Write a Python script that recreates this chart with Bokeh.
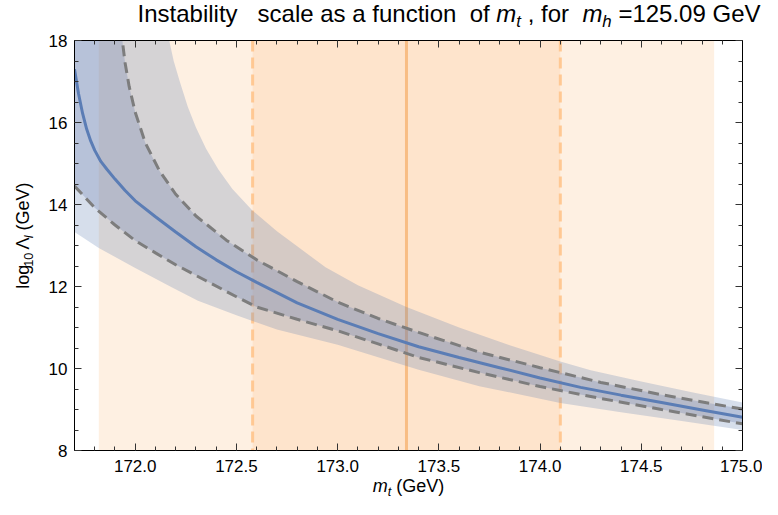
import math
from bokeh.plotting import figure
from bokeh.layouts import column, row
from bokeh.models import (Range1d, SingleIntervalTicker, LinearAxis, NumeralTickFormatter,
                          Span, BoxAnnotation, CustomJSTickFormatter)
from bokeh.core.properties import value
from bokeh.embed import file_html
from bokeh.resources import INLINE

# ---------------- data ----------------
MT_CENTRAL = 173.34          # GeV, measured top mass
MT_SIGMA = 0.76              # GeV, 1 sigma

# central instability scale (solid blue)
mt_central = [171.70, 171.72, 171.74, 171.76, 171.78, 171.80, 171.83, 171.86, 171.90, 171.95,
              172.00, 172.10, 172.20, 172.30, 172.40, 172.50, 172.60, 172.80, 173.00, 173.20,
              173.40, 173.60, 173.80, 174.00, 174.20, 174.40, 174.60, 174.80, 175.00]
lam_central = [17.30, 16.70, 16.22, 15.84, 15.55, 15.32, 15.05, 14.86, 14.62, 14.34,
               14.09, 13.70, 13.33, 12.97, 12.65, 12.36, 12.10, 11.60, 11.20, 10.85,
               10.53, 10.27, 10.02, 9.77, 9.54, 9.35, 9.17, 8.99, 8.81]

# inner band, upper edge (gray dashed)
mt_in_up = [171.70, 171.93, 171.94, 171.95, 171.97, 172.00, 172.05, 172.12, 172.20, 172.30,
            172.45, 172.60, 172.80, 173.00, 173.20, 173.40, 173.70, 174.00, 174.30, 174.60,
            175.00]
lam_in_up = [19.50, 18.30, 17.85, 17.45, 16.88, 16.25, 15.50, 14.82, 14.25, 13.72,
             13.13, 12.65, 12.12, 11.62, 11.22, 10.88, 10.40, 10.02, 9.66, 9.36,
             9.01]

# inner band, lower edge (gray dashed)
mt_in_lo = [171.70, 171.80, 171.90, 172.00, 172.10, 172.20, 172.35, 172.50, 172.60, 172.80,
            173.00, 173.20, 173.40, 173.70, 174.00, 174.30, 174.60, 175.00]
lam_in_lo = [14.45, 13.92, 13.50, 13.12, 12.82, 12.53, 12.14, 11.75, 11.50, 11.20,
             10.92, 10.60, 10.27, 9.90, 9.56, 9.27, 9.00, 8.65]

# outer band, upper edge
mt_out_up = [171.70, 172.16, 172.17, 172.19, 172.22, 172.26, 172.30, 172.35, 172.41, 172.48,
             172.58, 172.70, 172.80, 172.94, 173.10, 173.34, 173.60, 173.85, 174.10, 174.25,
             174.50, 174.75, 175.00]
lam_out_up = [19.50, 18.30, 17.95, 17.50, 17.00, 16.38, 15.88, 15.36, 14.86, 14.38,
              13.85, 13.35, 12.98, 12.47, 12.03, 11.50, 11.00, 10.57, 10.17, 9.96,
              9.68, 9.42, 9.17]

# outer band, lower edge
mt_out_lo = [171.70, 171.82, 172.00, 172.18, 172.31, 172.50, 172.70, 173.00, 173.40, 173.70,
             174.10, 174.40, 174.70, 175.00]
lam_out_lo = [13.33, 12.94, 12.45, 11.98, 11.65, 11.30, 10.95, 10.58, 9.97, 9.57,
              9.16, 8.93, 8.72, 8.50]

X_RANGE = (171.7, 175.0)
Y_RANGE = (8, 18)

# ---------------- styling ----------------
FONT = "Liberation Sans"
BLUE = "#5B7DB5"
GRAY = "#7D7D7D"
OR_LIGHT = "#FEF0E2"
OR_DARK = "#FEE4CC"
OR_LINE = "#FFC893"

TOTAL_W, TOTAL_H = 762, 499
TITLE_H, XLAB_H, YLAB_W = 30, 22, 44
B_LEFT, B_RIGHT, B_TOP, B_BOTTOM = 30, 20, 10, 27
FW = TOTAL_W - YLAB_W - B_LEFT - B_RIGHT
FH = TOTAL_H - TITLE_H - XLAB_H - B_TOP - B_BOTTOM

p = figure(frame_width=FW, frame_height=FH,
           x_range=Range1d(*X_RANGE), y_range=Range1d(*Y_RANGE),
           output_backend="svg", toolbar_location=None,
           min_border_left=B_LEFT, min_border_right=B_RIGHT,
           min_border_top=B_TOP, min_border_bottom=B_BOTTOM,
           background_fill_color="white", border_fill_color="white")
p.grid.visible = False
p.outline_line_color = "black"
p.outline_line_width = 1

# orange measurement bands
p.add_layout(BoxAnnotation(left=MT_CENTRAL - 2 * MT_SIGMA, right=MT_CENTRAL + 2 * MT_SIGMA,
                           fill_color=OR_LIGHT, fill_alpha=1.0, line_color=None, level="underlay"))
p.add_layout(BoxAnnotation(left=MT_CENTRAL - MT_SIGMA, right=MT_CENTRAL + MT_SIGMA,
                           fill_color=OR_DARK, fill_alpha=1.0, line_color=None, level="underlay"))
for loc in (MT_CENTRAL - MT_SIGMA, MT_CENTRAL + MT_SIGMA):
    p.add_layout(Span(location=loc, dimension="height", line_color=OR_LINE, line_width=3,
                      line_dash="11 6", level="underlay"))
p.add_layout(Span(location=MT_CENTRAL, dimension="height", line_color="#F8BD84", line_width=3,
                  level="underlay"))

# bands
p.patch(mt_out_up + mt_out_lo[::-1], lam_out_up + lam_out_lo[::-1],
        fill_color="#627FB0", fill_alpha=0.26, line_color=None)
p.patch(mt_in_up + mt_in_lo[::-1], lam_in_up + lam_in_lo[::-1],
        fill_color="#6F80AE", fill_alpha=0.30, line_color=None)

# lines
p.line(mt_in_up, lam_in_up, line_color=GRAY, line_width=3, line_dash="11 6")
p.line(mt_in_lo, lam_in_lo, line_color=GRAY, line_width=3, line_dash="11 6")
p.line(mt_central, lam_central, line_color=BLUE, line_width=3)

# axes
def style_axis(ax, labels=True):
    ax.axis_line_color = "black"
    ax.axis_line_width = 1
    ax.major_tick_in = 7
    ax.major_tick_out = 0
    ax.minor_tick_in = 4
    ax.minor_tick_out = 0
    ax.major_tick_line_color = "#333333"
    ax.minor_tick_line_color = "#333333"
    ax.major_label_text_font = FONT
    ax.major_label_text_font_size = "17px"
    ax.major_label_text_color = "black"
    if not labels:
        ax.formatter = CustomJSTickFormatter(code="return ''")

p.xaxis.ticker = SingleIntervalTicker(interval=0.5, num_minor_ticks=5)
p.xaxis.formatter = NumeralTickFormatter(format="0.0")
p.yaxis.ticker = SingleIntervalTicker(interval=2, num_minor_ticks=4)
p.yaxis.formatter = NumeralTickFormatter(format="0")
style_axis(p.xaxis[0])
style_axis(p.yaxis[0])
p.xaxis[0].major_label_standoff = 9
p.yaxis[0].major_label_standoff = 7

top = LinearAxis(ticker=SingleIntervalTicker(interval=0.5, num_minor_ticks=5))
right = LinearAxis(ticker=SingleIntervalTicker(interval=2, num_minor_ticks=4))
style_axis(top, labels=False)
style_axis(right, labels=False)
top.major_label_standoff = 0
right.major_label_standoff = 0
p.add_layout(top, "above")
p.add_layout(right, "right")

# ---------------- rich text (title and axis labels) ----------------
W = {' ': 278, 'I': 278, 'n': 556, 's': 500, 't': 278, 'a': 556, 'b': 556, 'i': 222, 'l': 222,
     'y': 500, 'c': 500, 'e': 556, 'f': 278, 'u': 556, 'o': 556, 'm': 833, 'h': 556, ',': 278,
     'r': 333, '=': 584, '.': 278, 'G': 778, 'V': 667, '(': 333, ')': 333, 'g': 556,
     'Λ': 667}
BASE_FIX = 0.30   # renderer places the 'alphabetic' anchor this fraction of the size too low

def tw(s, size):
    return sum(W.get(c, 556) for c in s) / 1000.0 * size

def pixfig(w, h):
    f = figure(width=w, height=h, x_range=Range1d(0, w), y_range=Range1d(0, h),
               output_backend="svg", toolbar_location=None, min_border=0,
               x_axis_type=None, y_axis_type=None,
               background_fill_color="white", border_fill_color="white")
    f.outline_line_color = None
    return f

def rich(f, tokens, size, x0, y0, angle=0.0, align="left"):
    """tokens: (text, italic, subscript); a ' ' token is a space."""
    widths = [tw(t, size * (0.7 if sub else 1.0)) for t, it, sub in tokens]
    pos = -sum(widths) / 2 if align == "center" else 0.0
    for (t, it, sub), w in zip(tokens, widths):
        if t.strip():
            s = size * (0.7 if sub else 1.0)
            shift = 0.22 * size if sub else 0.0
            fix = BASE_FIX * s
            if angle == 0.0:
                x, y = x0 + pos, y0 - shift + fix
            else:
                x, y = x0 + shift - fix, y0 + pos
            f.text(x=[x], y=[y], text=[t], text_font=value(FONT),
                   text_font_size=value(f"{s:.1f}px"),
                   text_font_style="italic" if it else "normal",
                   text_color="black", text_align="left", text_baseline="alphabetic",
                   angle=angle)
        pos += w

S = (" ", False, False)
title_tokens = [("Instability", False, False), S, S, S, ("scale", False, False), S,
                ("as", False, False), S, ("a", False, False), S, ("function", False, False), S, S,
                ("of", False, False), S, ("m", True, False), ("t", True, True), S,
                (",", False, False), S, ("for", False, False), S, S, ("m", True, False),
                ("h", True, True), S, ("=125.09", False, False), S, ("GeV", False, False)]
tfig = pixfig(TOTAL_W, TITLE_H)
rich(tfig, title_tokens, 24, 137, TITLE_H - 20.5)

xlabel_tokens = [("m", True, False), ("t", True, True), S, ("(GeV)", False, False)]
xfig = pixfig(TOTAL_W, XLAB_H)
rich(xfig, xlabel_tokens, 18, YLAB_W + B_LEFT + FW / 2, XLAB_H - 14, align="center")

ylabel_tokens = [("log", False, False), ("10", False, True), S, ("Λ", False, False),
                 ("I", True, True), S, ("(GeV)", False, False)]
main_h = B_TOP + FH + B_BOTTOM
yfig = pixfig(YLAB_W, main_h)
rich(yfig, ylabel_tokens, 18, 28, B_BOTTOM + FH / 2, angle=math.pi / 2, align="center")

layout = column(tfig, row(yfig, p, spacing=0), xfig, spacing=0)
open("out.html", "w").write(file_html(layout, INLINE))
